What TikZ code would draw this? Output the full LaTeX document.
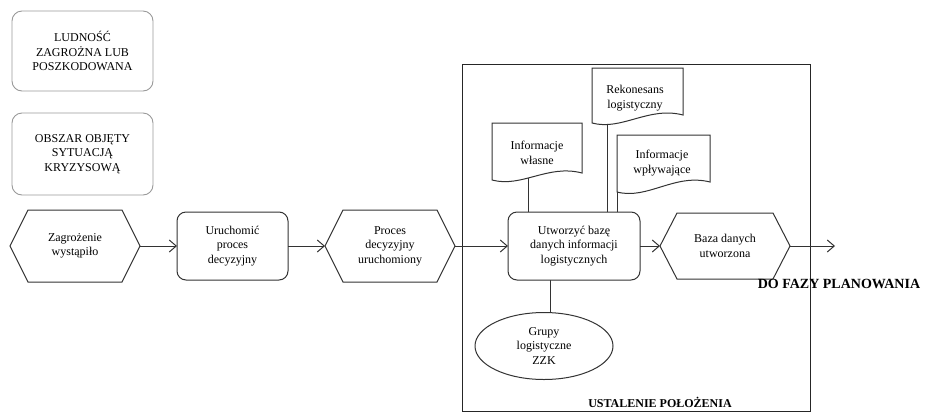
\documentclass[tikz,border=0pt]{standalone}
\usepackage{fontspec}
\setmainfont{Liberation Serif}
\usetikzlibrary{arrows.meta,shapes.geometric,calc}
\pgfdeclarelayer{bg}
\pgfsetlayers{bg,main}
\newcommand\hexpath[2]{%
  \draw[shapeline] ([xshift=#2]#1.north west) -- ([xshift=-#2]#1.north east) -- (#1.east)
    -- ([xshift=-#2]#1.south east) -- ([xshift=#2]#1.south west) -- (#1.west) -- cycle;}
\newcommand\docshape[3]{%
  \draw[shapeline,fill=white] (#1.south west) -- (#1.north west) -- (#1.north east)
    -- ($(#1.south east)+(0,-#3)$)
    .. controls ($(#1.south west)+(0.62*#2,-#3-9)$) and ($(#1.south west)+(0.33*#2,8)$) .. (#1.south west) -- cycle;}
\begin{document}
\begin{tikzpicture}[x=1pt,y=-1pt,
  base/.style={align=center,font=\fontsize{12}{14.5}\selectfont,inner sep=0pt,outer sep=0pt},
  shapeline/.style={draw=black!80,line width=1pt},
  lightbox/.style={base,draw=black!40,line width=0.9pt,rounded corners=10pt},
  rbox/.style={base,shapeline,rounded corners=9pt},
  hexn/.style={base},
  docn/.style={base},
  ell/.style={base,shapeline,ellipse,fill=white},
  framebox/.style={draw=black!85,line width=1pt,inner sep=0pt,outer sep=0pt},
  conn/.style={draw=black!80,line width=1pt},
  arr/.style={conn,-{Straight Barb[length=7pt,width=12pt,line width=1pt]}},
  lbl/.style={font=\bfseries\fontsize{14}{16}\selectfont,inner sep=0pt}
]
\useasboundingbox (0,0) rectangle (937,413);

% frame
\node[framebox,minimum width=348pt,minimum height=347pt] (fr) at (636,237.5) {};

% left boxes
\node[lightbox,minimum width=141pt,minimum height=80pt] (ludn) at (82.5,51) {LUDNOŚĆ\\ZAGROŻNA LUB\\POSZKODOWANA};
\node[lightbox,minimum width=141pt,minimum height=82pt] (obsz) at (82.5,154) {OBSZAR OBJĘTY\\SYTUACJĄ\\KRYZYSOWĄ};

% main row
\node[hexn,minimum width=130pt,minimum height=72pt] (zag) at (75,246) {Zagrożenie\\wystąpiło};
\hexpath{zag}{18pt}
\node[rbox,minimum width=111pt,minimum height=68pt] (uru) at (232.5,246) {Uruchomić\\proces\\decyzyjny};
\node[hexn,minimum width=130pt,minimum height=72pt] (proc) at (390,246) {Proces\\decyzyjny\\uruchomiony};
\hexpath{proc}{18pt}
\node[rbox,fill=white,minimum width=132pt,minimum height=68pt] (utw) at (574,246) {Utworzyć bazę\\danych informacji\\logistycznych};
\node[hexn,minimum width=130pt,minimum height=66pt] (baza) at (725,246) {Baza danych\\utworzona};
\hexpath{baza}{17pt}
\coordinate (out) at (835,246);

% documents
\node[docn,minimum width=91pt,minimum height=55pt] (rek) at (637.5,95.5) {};
\docshape{rek}{91}{8}
\node[base] at (635,98) {Rekonesans\\logistyczny};
\node[docn,minimum width=90pt,minimum height=57pt] (wl) at (537,151.5) {};
\docshape{wl}{90}{7}
\node[base] at (537,153) {Informacje\\własne};
\node[docn,minimum width=93pt,minimum height=57pt] (wpl) at (663.5,163.5) {};
\docshape{wpl}{93}{10}
\node[base] at (662,163) {Informacje\\wpływające};

% ellipse
\node[ell,minimum width=138pt,minimum height=67pt] (grp) at (544,346) {Grupy\\logistyczne\\ZZK};

% connectors
\begin{pgfonlayer}{bg}
\coordinate (r1) at ($(rek.south west)+(15,-20)$);
\draw[conn] (r1) -- (r1 |- utw.north);
\coordinate (w1) at ($(wl.south west)+(36,-20)$);
\draw[conn] (w1) -- (w1 |- utw.north);
\draw[conn] (wpl.south west) -- (wpl.south west |- utw.north);
\coordinate (g1) at ($(utw.south)+(-24,0)$);
\draw[conn] (g1) -- (g1 |- grp.center);
\end{pgfonlayer}

\draw[arr] (zag.east) -- (uru.west);
\draw[arr] (uru.east) -- (proc.west);
\draw[arr] (proc.east) -- (utw.west);
\draw[arr] (utw.east) -- (baza.west);
\draw[arr] (baza.east) -- (out);

% labels
\node[lbl] (dofazy) at (839,284) {DO FAZY PLANOWANIA};
\node[lbl,font=\bfseries\fontsize{12}{14}\selectfont] (ustal) at (660,402) {USTALENIE POŁOŻENIA};
\end{tikzpicture}
\end{document}
